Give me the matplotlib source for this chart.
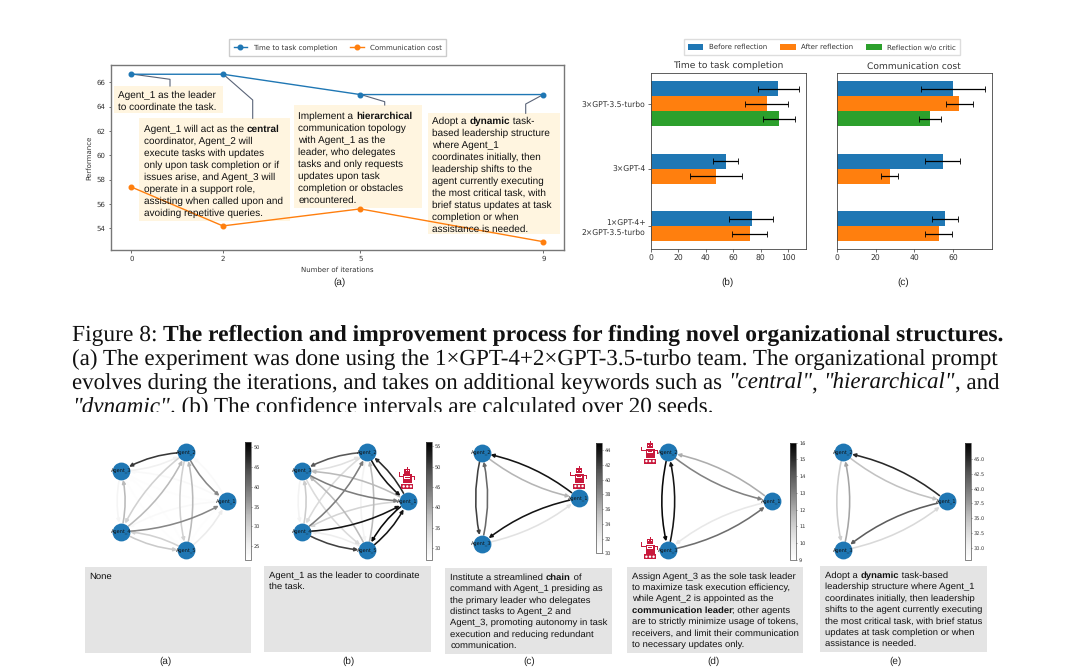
import re
import numpy as np
import matplotlib
matplotlib.use("Agg")
import matplotlib.pyplot as plt
from matplotlib.cm import ScalarMappable
from matplotlib.colors import Normalize
from matplotlib.font_manager import FontProperties
from matplotlib.patches import Circle, FancyArrowPatch, Rectangle

plt.rcParams["text.hinting"] = "no_hinting"

BLUE, ORANGE, GREEN = "#1f77b4", "#ff7f0e", "#2ca02c"
ROBOT = "#c8193c"
SANS = "Liberation Sans"
SERIF = "Liberation Serif"

# panel (a) line chart
iterations = [0, 2, 5, 9]
time_cost = [66.67, 66.67, 65.0, 65.0]
comm_cost = [57.4, 54.2, 55.6, 52.9]

# panels (b) and (c): value, then ends of the interval
teams = ["3×GPT-3.5-turbo", "3×GPT-4", "1×GPT-4+\n2×GPT-3.5-turbo"]
time_before = [92.7, 54.6, 73.3]
time_before_lo = [78.0, 45.4, 57.0]
time_before_hi = [107.5, 63.6, 89.0]
time_after = [84.5, 47.3, 71.9]
time_after_lo = [68.5, 28.6, 59.2]
time_after_hi = [100.0, 66.0, 84.2]
time_nocritic = [93.0]
time_nocritic_lo = [81.3]
time_nocritic_hi = [105.0]
comm_before = [60.0, 54.8, 55.9]
comm_before_lo = [43.6, 45.7, 49.3]
comm_before_hi = [76.5, 63.8, 62.6]
comm_after = [63.3, 27.2, 52.8]
comm_after_lo = [56.4, 22.9, 45.7]
comm_after_hi = [70.5, 31.6, 59.7]
comm_nocritic = [48.1]
comm_nocritic_lo = [42.4]
comm_nocritic_hi = [53.6]

edges_5 = [(1, 2), (2, 1), (1, 3), (3, 1), (1, 4), (4, 1), (1, 5), (5, 1), (2, 3), (3, 2),
           (2, 4), (4, 2), (2, 5), (5, 2), (3, 4), (4, 3), (3, 5), (5, 3), (4, 5), (5, 4)]
edges_3 = [(1, 2), (2, 1), (1, 3), (3, 1), (2, 3), (3, 2)]
weights_a = [23, 38, 23, 22, 23, 38, 22, 26, 46, 25, 30, 33, 30, 33, 24, 33, 22, 22, 31, 30]
weights_b = [52, 54, 38, 44, 35, 54, 55, 54, 48, 33, 34, 44, 30, 38, 30, 36, 34, 38, 50, 31]
weights_c = [44, 36, 44, 33, 42, 40]
weights_d = [12, 13, 10.2, 13.5, 15.8, 15.5]
weights_e = [45, 35, 42, 33, 34, 37]

annot_1 = ["Agent_1 as the leader", "to coordinate the task."]
annot_2 = ["Agent_1 will act as the **central**", "coordinator, Agent_2 will",
           "execute tasks with updates", "only upon task completion or if",
           "issues arise, and Agent_3 will", "operate in a support role,",
           "assisting when called upon and", "avoiding repetitive queries."]
annot_3 = ["Implement a **hierarchical**", "communication topology", "with Agent_1 as the",
           "leader, who delegates", "tasks and only requests", "updates upon task",
           "completion or obstacles", "encountered."]
annot_4 = ["Adopt a **dynamic** task-", "based leadership structure", "where Agent_1",
           "coordinates initially, then", "leadership shifts to the",
           "agent currently executing", "the most critical task, with",
           "brief status updates at task", "completion or when", "assistance is needed."]

prompt_a = ["None"]
prompt_b = ["Agent_1 as the leader to coordinate", "the task."]
prompt_c = ["Institute a streamlined **chain** of", "command with Agent_1 presiding as",
            "the primary leader who delegates", "distinct tasks to Agent_2 and",
            "Agent_3, promoting autonomy in task", "execution and reducing redundant",
            "communication."]
prompt_d = ["Assign Agent_3 as the sole task leader", "to maximize task execution efficiency,",
            "while Agent_2 is appointed as the", "**communication leader**; other agents",
            "are to strictly minimize usage of tokens,", "receivers, and limit their communication",
            "to necessary updates only."]
prompt_e = ["Adopt a **dynamic** task-based", "leadership structure where Agent_1",
            "coordinates initially, then leadership", "shifts to the agent currently executing",
            "the most critical task, with brief status", "updates at task completion or when",
            "assistance is needed."]

caption = ["Figure 8: **The reflection and improvement process for finding novel organizational structures.**",
           "(a) The experiment was done using the 1×GPT-4+2×GPT-3.5-turbo team. The organizational prompt",
           "evolves during the iterations, and takes on additional keywords such as //\"central\"//, //\"hierarchical\"//, and",
           "//\"dynamic\"//. (b) The confidence intervals are calculated over 20 seeds."]

W, H = 1083, 668
fig = plt.figure(figsize=(W / 100, H / 100), dpi=100, facecolor="white")
page = fig.add_axes([0, 0, 1, 1], zorder=10)
page.set_xlim(0, W)
page.set_ylim(H, 0)
page.axis("off")
renderer = fig.canvas.get_renderer()


def px_axes(x0, y0, x1, y1, **kw):
    return fig.add_axes([x0 / W, 1 - y1 / H, (x1 - x0) / W, (y1 - y0) / H], **kw)


def advance(s, prop):
    # trailing spaces are not measured on their own, so pad with a dot
    w = renderer.get_text_width_height_descent(s + ".", prop, False)[0]
    return w - renderer.get_text_width_height_descent(".", prop, False)[0]


def line_runs(line, family, size):
    runs = []
    for part in re.split(r"(\*\*.+?\*\*|//.+?//)", line):
        if not part:
            continue
        weight, style = "normal", "normal"
        if part.startswith("**"):
            part, weight = part[2:-2], "bold"
        elif part.startswith("//"):
            part, style = part[2:-2], "italic"
        runs.append((part, FontProperties(family=family, size=size, weight=weight, style=style)))
    return runs


def rich_line(x, y, line, family, size, width=None, clip=None):
    if width is not None:
        # scale the font so the line fills the measure
        natural = sum(advance(t, p) for t, p in line_runs(line, family, size))
        size = size * width / natural
    for run, prop in line_runs(line, family, size):
        t = page.text(x, y, run, fontproperties=prop, color="#111111", va="baseline", ha="left")
        if clip is not None:
            t.set_clip_path(clip)
            t.set_clip_on(True)
        x += advance(run, prop)


def text_block(x, y, lines, size, step):
    for i, line in enumerate(lines):
        rich_line(x, y + i * step, line, SANS, size)


def sublabel(x, y, s):
    page.text(x, y, s, family=SANS, fontsize=7.2, ha="center", va="center", color="#222222")


def robot(cx, cy):
    box = lambda x, y, w, h, **kw: page.add_patch(
        Rectangle((cx + x, cy + y), w, h, fc=kw.get("fc", ROBOT), ec="none"))
    box(-0.4, -11.5, 0.9, 2)       # antenna
    box(-3, -9.5, 6, 5)            # head
    box(-1.8, -8.2, 1.2, 1.2, fc="white")
    box(0.6, -8.2, 1.2, 1.2, fc="white")
    box(-4.5, -3.8, 9, 9)          # body
    box(-3, -2, 6, 2.5, fc="white")
    box(-2.2, -1.3, 4.4, 1)
    box(-8, -2.5, 3.5, 1)          # left arm
    box(-8.6, -6, 1, 4.5)
    box(4.5, -2.5, 2.5, 1)         # right arm
    box(6.6, -2.5, 1, 4)
    box(-6, 6, 12, 4.8)            # tracks
    for dx in (-3.6, 0, 3.6):
        page.add_patch(Circle((cx + dx, cy + 8.4), 1.2, fc="white", ec="none"))


def network(cx, cy, rx, ry, n, edges, weights, vmin, vmax, ticks, cbar, fmt="%g", rad=0.13):
    ax = px_axes(cx - 1.3 * rx, cy - 1.3 * ry, cx + 1.3 * rx, cy + 1.3 * ry)
    ax.set_xlim(-1.3, 1.3)
    ax.set_ylim(-1.3, 1.3)
    ax.axis("off")
    angles = 2 * np.pi * np.arange(n) / n
    pos = {i + 1: (np.cos(a), np.sin(a)) for i, a in enumerate(angles)}
    norm = Normalize(vmin, vmax)
    cmap = plt.get_cmap("Greys")
    for (src, dst), w in sorted(zip(edges, weights), key=lambda e: e[1]):
        ax.add_patch(FancyArrowPatch(pos[src], pos[dst], connectionstyle=f"arc3,rad={rad}",
                                     arrowstyle="-|>", mutation_scale=5, lw=1.15,
                                     color=cmap(norm(w)), shrinkA=6.5, shrinkB=6.5))
    ax.scatter([p[0] for p in pos.values()], [p[1] for p in pos.values()],
               s=165, color=BLUE, zorder=3, linewidths=0)
    for k, p in pos.items():
        ax.text(p[0], p[1], f"Agent_{k}", fontsize=3.6, ha="center", va="center", zorder=4, color="#111111")
    cax = px_axes(*cbar)
    cb = fig.colorbar(ScalarMappable(norm=norm, cmap=cmap), cax=cax, ticks=ticks, format=fmt)
    cb.ax.tick_params(labelsize=3.6, length=1, width=0.4, pad=1, colors="#333333")
    cb.outline.set_linewidth(0.5)
    cb.outline.set_edgecolor("#555555")


def gray_box(x0, y0, x1, y1, lines, size=6.8, step=11.4):
    page.add_patch(Rectangle((x0, y0), x1 - x0, y1 - y0, fc="#e4e4e4", ec="none"))
    text_block(x0 + 5, y0 + 12, lines, size, step)


# ---- panel (a)
ax = px_axes(110.7, 65, 564, 250)
ax.plot(iterations, time_cost, "-o", color=BLUE, lw=1, ms=3.3, label="Time to task completion", zorder=3)
ax.plot(iterations, comm_cost, "-o", color=ORANGE, lw=1, ms=3.3, label="Communication cost", zorder=3)
ax.set_xticks(iterations)
ax.set_yticks(range(54, 67, 2))
ax.set_xlim(-0.45, 9.45)
ax.set_ylim(52.22, 67.43)
ax.set_xlabel("Number of iterations", fontsize=5, labelpad=3, color="#333333")
ax.set_ylabel("Performance", fontsize=5, labelpad=3, color="#333333")
ax.tick_params(labelsize=5, length=1.8, width=0.5, pad=2, colors="#333333")
for s in ax.spines.values():
    s.set_color("#777777")
    s.set_linewidth(1)
ax.legend(loc="center", bbox_to_anchor=(337.5, 47.5), bbox_transform=page.transData, ncol=2, fontsize=5,
          fancybox=False, framealpha=1, edgecolor="#cccccc", columnspacing=1.8, handlelength=2.0,
          borderpad=0.7, labelcolor="#333333")

annot_boxes = [(114.3, 86, 222.7, 113.3), (139.3, 118.3, 290, 220.7),
               (294, 105, 422.3, 207.7), (428.3, 113.3, 560, 234)]
for x0, y0, x1, y1 in annot_boxes:
    ax.add_patch(Rectangle((x0, y0), x1 - x0, y1 - y0, fc="#fff5e0", ec="none", zorder=1,
                           transform=page.transData, clip_on=False))
connectors = [[(131.3, 74), (170, 79.3), (170, 86)], [(223, 74), (252.7, 100), (252.7, 118.3)],
              [(360, 94.3), (384.7, 101.7), (384.7, 105)], [(543.7, 94.3), (525.7, 104), (525.7, 113.3)]]
for c in connectors:
    xs, ys = zip(*c)
    ax.plot(xs, ys, color="#5a6478", lw=0.8, transform=page.transData, zorder=2, clip_on=False)

text_block(118.5, 97.5, annot_1, 7.2, 12.1)
text_block(143.5, 131.5, annot_2, 7.2, 12.1)
text_block(298.5, 118.5, annot_3, 7.2, 12.1)
text_block(432.5, 123.5, annot_4, 7.2, 12.1)
sublabel(339, 282, "(a)")


# ---- panels (b) and (c)
def bars(ax, before, before_lo, before_hi, after, after_lo, after_hi, nocritic, nocritic_lo, nocritic_hi):
    group_y = np.array([0, 1.083, 2.044])
    h = 0.25
    ys_before = group_y + np.array([-h, -h / 2, -h / 2])
    ys_after = group_y + np.array([0, h / 2, h / 2])
    ys_nocritic = group_y[:1] + h
    rows = [(ys_before, before, before_lo, before_hi, BLUE, "Before reflection"),
            (ys_after, after, after_lo, after_hi, ORANGE, "After reflection"),
            (ys_nocritic, nocritic, nocritic_lo, nocritic_hi, GREEN, "Reflection w/o critic")]
    for ys, v, lo, hi, col, lab in rows:
        v, lo, hi = np.array(v), np.array(lo), np.array(hi)
        ax.barh(ys, v, height=h, color=col, label=lab,
                xerr=[v - lo, hi - v], error_kw=dict(ecolor="black", elinewidth=0.9, capsize=2.4, capthick=0.6))
    ax.set_yticks(group_y)
    ax.set_ylim(2.42, -0.517)
    ax.tick_params(labelsize=5.5, length=2, width=0.5, pad=2, colors="#333333")
    for s in ax.spines.values():
        s.set_linewidth(0.6)
        s.set_color("#444444")


axb = px_axes(651, 72.7, 806, 249)
bars(axb, time_before, time_before_lo, time_before_hi, time_after, time_after_lo, time_after_hi,
     time_nocritic, time_nocritic_lo, time_nocritic_hi)
axb.set_yticklabels(teams)
axb.set_xlim(0, 112.9)
axb.set_xticks(range(0, 101, 20))
axb.set_title("Time to task completion", fontsize=6.6, pad=3, color="#333333")

axc = px_axes(837, 72.7, 991.7, 249)
bars(axc, comm_before, comm_before_lo, comm_before_hi, comm_after, comm_after_lo, comm_after_hi,
     comm_nocritic, comm_nocritic_lo, comm_nocritic_hi)
axc.set_yticks([])
axc.set_xlim(0, 80)
axc.set_xticks(range(0, 61, 20))
axc.set_title("Communication cost", fontsize=6.6, pad=3, color="#333333")

axb.legend(loc="center", bbox_to_anchor=(822, 47), bbox_transform=page.transData, ncol=3, fontsize=5,
           fancybox=False, framealpha=1, edgecolor="#dddddd", columnspacing=1.9, handlelength=2.2,
           handleheight=1.0, borderpad=0.6, labelcolor="#333333")
sublabel(727, 282, "(b)")
sublabel(903, 282, "(c)")

# ---- caption, last line is cut off as in the source picture
clip = Rectangle((0, 0), W, 411.5, transform=page.transData)
rich_line(72, 341, caption[0], SERIF, 16.7, width=928)
rich_line(72, 365, caption[1], SERIF, 16.7, width=924)
rich_line(72, 389, caption[2], SERIF, 16.7, width=924)
rich_line(72, 413, caption[3], SERIF, 16.7, clip=clip)

# ---- network panels
network(168.3, 501.3, 58.3, 51.5, 5, edges_5, weights_a, 21.5, 51.3, range(25, 51, 5), (245.3, 442.3, 251.3, 560))
network(349.3, 501.3, 58.3, 51.5, 5, edges_5, weights_b, 27, 56, range(30, 56, 5), (426.3, 442.3, 432.3, 560))
network(514, 498.3, 64.7, 52.5, 3, edges_3, weights_c, 30, 45, range(30, 45, 2), (596, 442.7, 602, 553.3))
network(702.7, 501.3, 68.9, 56.4, 3, edges_3, weights_d, 9, 16, range(9, 17), (790.3, 442.7, 796.3, 560))
network(877.7, 501.3, 68.9, 56.4, 3, edges_3, weights_e, 28, 47.7, np.arange(30, 46, 2.5), (965.3, 442.7, 971.3, 560), fmt="%.1f")

robot(407.3, 478)
robot(579, 477.7)
robot(650, 452.7)
robot(650, 548.3)

gray_box(84.7, 566.7, 251, 652.7, prompt_a)
gray_box(264, 566, 431, 652.3, prompt_b)
gray_box(445.3, 568, 612, 654.3, prompt_c)
gray_box(626.7, 566.7, 803.3, 652.7, prompt_d)
gray_box(820, 566, 986.7, 652.3, prompt_e)

for x, s in zip([165, 348, 529, 713, 895], ["(a)", "(b)", "(c)", "(d)", "(e)"]):
    sublabel(x, 661.5, s)

fig.savefig("out.png", dpi=100)
